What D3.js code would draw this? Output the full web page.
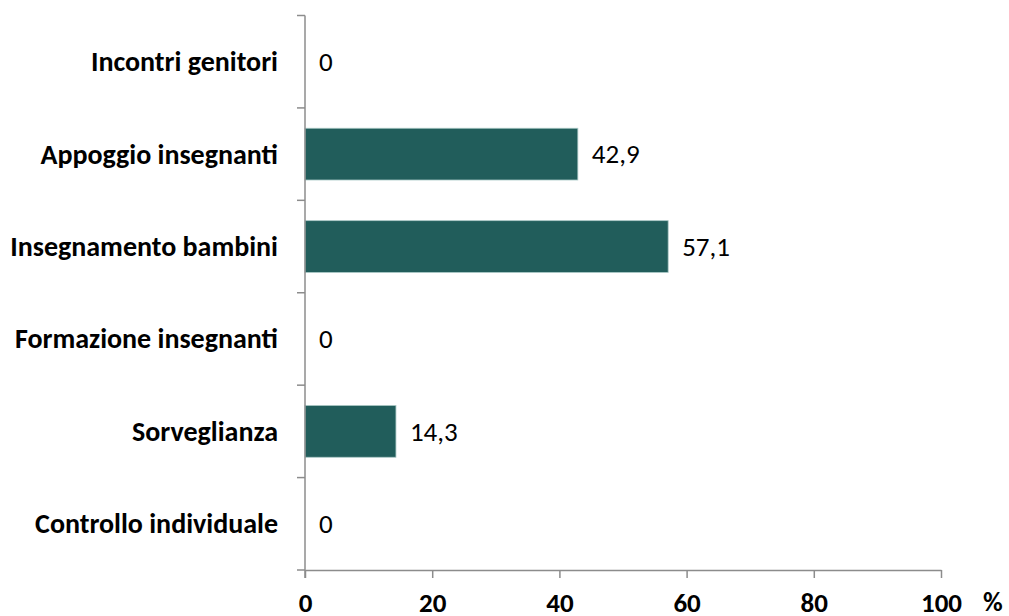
<!DOCTYPE html>
<html>
<head>
<meta charset="utf-8">
<script src="https://cdn.jsdelivr.net/npm/d3@7"></script>
<style>
  html, body { margin: 0; padding: 0; background: #fff; }
  svg { display: block; }
  svg text { font-family: Carlito, Calibri, Lato, "Open Sans", sans-serif; }
</style>
</head>
<body>
<svg id="chart" width="1009" height="616"></svg>
<script>
const categories = ["Incontri genitori", "Appoggio insegnanti", "Insegnamento bambini", "Formazione insegnanti", "Sorveglianza", "Controllo individuale"];
const values = [0, 42.9, 57.1, 0, 14.3, 0];
const valueLabels = ["0", "42,9", "57,1", "0", "14,3", "0"];
const xTicks = [0, 20, 40, 60, 80, 100];
const xUnit = "%";

const FONT = "Carlito, Calibri, Lato, 'Open Sans', sans-serif";
const svg = d3.select("#chart");
const margin = { left: 305, right: 68, top: 15.5, bottom: 46 };
const W = 1009, H = 616;

const x = d3.scaleLinear().domain([0, 100]).range([margin.left, W - margin.right]);
const y = d3.scaleBand().domain(categories).range([margin.top, H - margin.bottom]).paddingInner(0.44).paddingOuter(0.22);

const axisColor = "#8c8c8c";

// bars
svg.append("g").selectAll("rect").data(categories).join("rect")
  .attr("x", x(0))
  .attr("y", (d) => y(d))
  .attr("width", (d, i) => x(values[i]) - x(0))
  .attr("height", y.bandwidth())
  .attr("fill", "#215d5b")
  .attr("stroke", (d, i) => values[i] > 0 ? "#a9c7c5" : "none")
  .attr("stroke-width", 0.8);

// value labels
svg.append("g").selectAll("text").data(categories).join("text")
  .attr("x", (d, i) => x(values[i]) + 14)
  .attr("y", (d) => y(d) + y.bandwidth() / 2)
  .attr("dy", "0.34em")
  .attr("font-size", 27)
  .attr("font-family", FONT)
  .attr("fill", "#000")
  .text((d, i) => valueLabels[i]);

// y axis (categories)
const yAxis = svg.append("g")
  .attr("transform", `translate(${x(0)},0)`)
  .call(d3.axisLeft(y).tickSize(0).tickPadding(27));
yAxis.select(".domain").remove();
yAxis.selectAll("text").attr("font-size", 28).attr("font-weight", "bold").attr("fill", "#000").attr("font-family", FONT).attr("dy", "0.34em");

// y axis line and boundary ticks
const plotTop = margin.top, plotBottom = H - margin.bottom;
const step = (plotBottom - plotTop) / categories.length;
svg.append("line").attr("x1", x(0)).attr("x2", x(0)).attr("y1", plotTop).attr("y2", plotBottom + 8)
  .attr("stroke", axisColor).attr("stroke-width", 1.5);
svg.append("g").selectAll("line").data(d3.range(categories.length + 1)).join("line")
  .attr("x1", x(0) - 8).attr("x2", x(0))
  .attr("y1", (i) => plotTop + i * step).attr("y2", (i) => plotTop + i * step)
  .attr("stroke", axisColor).attr("stroke-width", 1.5);

// x axis
const xAxis = svg.append("g")
  .attr("transform", `translate(0,${plotBottom})`)
  .call(d3.axisBottom(x).tickValues(xTicks).tickSize(8).tickSizeOuter(0).tickPadding(0));
xAxis.select(".domain").attr("stroke", axisColor).attr("stroke-width", 1.5);
xAxis.selectAll(".tick line").attr("stroke", axisColor).attr("stroke-width", 1.5);
xAxis.selectAll("text").attr("font-size", 27).attr("font-weight", "bold").attr("fill", "#000").attr("font-family", FONT)
  .attr("y", 42).attr("dy", null);

svg.append("text")
  .attr("x", 983).attr("y", 611)
  .attr("font-size", 27).attr("font-weight", "bold")
  .attr("font-family", FONT)
  .text(xUnit);
</script>
</body>
</html>
